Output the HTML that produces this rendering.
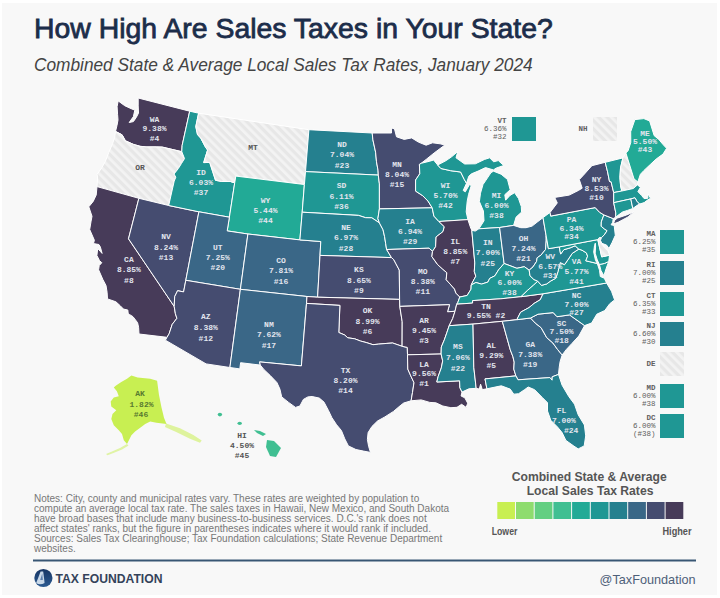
<!DOCTYPE html><html><head><meta charset="utf-8"><style>
html,body{margin:0;padding:0;width:720px;height:598px;overflow:hidden;background:#fff;}
#pg{position:absolute;left:2px;top:2.5px;width:715px;height:592.5px;background:#f8f8f8;}
.t{position:absolute;white-space:nowrap;font-family:"Liberation Sans",sans-serif;}
svg{position:absolute;left:0;top:0;}
</style></head><body><div id="pg"></div>
<div class="t" id="title" style="left:33.6px;top:13px;font-size:28px;color:#1c2d4a;-webkit-text-stroke:0.8px #1c2d4a;transform-origin:0 0;transform:scaleX(1.014);">How High Are Sales Taxes in Your State?</div>
<div class="t" id="sub" style="left:34px;top:55px;font-size:17.5px;transform-origin:0 0;transform:scaleX(0.987);font-style:italic;color:#444;">Combined State &amp; Average Local Sales Tax Rates, January 2024</div>
<svg width="720" height="598" viewBox="0 0 720 598">
<defs><pattern id="stripes" patternUnits="userSpaceOnUse" width="6" height="6" patternTransform="rotate(-45)"><rect width="6" height="6" fill="#e7e7e7"/><rect width="2.8" height="6" fill="#f3f3f3"/></pattern></defs>
<g stroke="#fff" stroke-width="1" stroke-linejoin="round">
<path d="M118.2,100.9 124.7,105.7 131.7,108.9 134.8,110.1 133.4,116.6 129.2,122.5 133.4,121.6 136.3,117.4 138.5,113.1 138.2,105.9 138.2,98.0 189.7,111.2 182.1,145.6 181.8,151.7 162.3,147.1 156.1,146.9 146.0,146.9 140.1,146.3 133.5,144.4 125.4,140.8 122.1,134.8 115.5,131.4 117.0,125.4 118.0,119.9 117.6,114.7 117.1,106.7 118.2,100.9Z" fill="#473b59"/>
<path d="M115.5,131.4 122.1,134.8 125.4,140.8 133.5,144.4 140.1,146.3 146.0,146.9 156.1,146.9 162.3,147.1 181.8,151.7 184.5,158.6 181.4,163.6 178.3,168.6 174.0,174.0 175.8,177.2 174.2,181.1 168.7,205.5 138.9,198.3 97.0,186.6 97.6,178.0 97.1,174.4 101.8,167.7 105.3,161.5 108.8,152.4 112.6,143.5 114.6,137.6 115.5,131.4Z" fill="url(#stripes)"/>
<path d="M97.0,186.6 138.9,198.3 128.5,238.8 174.2,306.4 175.4,313.7 176.9,318.3 172.2,324.4 169.1,333.8 167.0,337.3 139.0,334.0 138.6,327.3 137.6,322.7 133.0,316.7 129.4,314.4 128.2,313.4 127.8,310.0 123.5,309.1 120.2,305.7 115.9,301.8 107.5,298.9 107.1,292.3 106.0,285.5 102.9,279.6 98.6,269.8 99.2,265.6 101.8,262.7 99.5,260.6 96.9,255.5 97.7,248.5 100.3,251.4 102.1,253.4 100.4,247.1 98.9,244.5 93.4,243.6 94.4,240.3 89.7,229.5 91.1,221.1 92.0,216.3 88.8,206.8 93.2,201.4 96.2,195.0 97.0,186.6Z" fill="#473b59"/>
<path d="M138.9,198.3 168.7,205.5 198.9,211.8 185.8,280.3 183.6,291.9 177.6,290.7 174.7,296.6 174.2,306.4 128.5,238.8 138.9,198.3Z" fill="#454c70"/>
<path d="M189.7,111.2 198.6,113.2 195.8,126.6 197.5,134.6 200.7,138.1 205.7,147.5 207.6,150.0 203.7,162.6 209.7,162.4 212.6,171.3 215.5,180.3 221.4,181.4 230.4,181.5 234.7,182.9 229.4,217.2 198.9,211.8 168.7,205.5 174.2,181.1 175.8,177.2 174.0,174.0 178.3,168.6 181.4,163.6 184.5,158.6 181.8,151.7 182.1,145.6 189.7,111.2Z" fill="#1f9794"/>
<path d="M198.6,113.2 308.9,129.7 305.5,171.6 304.4,184.5 235.8,176.1 234.7,182.9 230.4,181.5 221.4,181.4 215.5,180.3 212.6,171.3 209.7,162.4 203.7,162.6 207.6,150.0 205.7,147.5 200.7,138.1 197.5,134.6 195.8,126.6 198.6,113.2Z" fill="url(#stripes)"/>
<path d="M234.7,182.9 235.8,176.1 304.4,184.5 302.2,212.2 299.9,239.9 247.9,234.0 227.2,230.9 229.4,217.2 234.7,182.9Z" fill="#22aa96"/>
<path d="M198.9,211.8 229.4,217.2 227.2,230.9 247.9,234.0 240.4,289.3 185.8,280.3 198.9,211.8Z" fill="#3a6787"/>
<path d="M247.9,234.0 299.9,239.9 320.8,241.5 320.0,255.4 317.6,297.2 307.0,296.5 240.4,289.3 247.9,234.0Z" fill="#3a6787"/>
<path d="M185.8,280.3 240.4,289.3 229.9,367.5 206.1,363.9 165.4,340.2 167.0,337.3 169.1,333.8 172.2,324.4 176.9,318.3 175.4,313.7 174.2,306.4 174.7,296.6 177.6,290.7 183.6,291.9 185.8,280.3Z" fill="#454c70"/>
<path d="M240.4,289.3 307.0,296.5 306.5,303.4 301.4,365.9 259.6,361.9 260.3,365.1 240.6,362.7 239.8,368.9 229.9,367.5 240.4,289.3Z" fill="#3a6787"/>
<path d="M308.9,129.7 372.2,133.0 372.9,139.8 375.6,152.2 376.5,161.8 378.0,170.1 378.3,175.1 305.5,171.6 308.9,129.7Z" fill="#25808f"/>
<path d="M305.5,171.6 378.3,175.1 379.4,183.9 379.4,208.9 377.9,218.6 379.4,222.9 371.8,217.8 365.6,217.7 358.6,215.4 302.2,212.2 304.4,184.5 305.5,171.6Z" fill="#1f9794"/>
<path d="M302.2,212.2 358.6,215.4 365.6,217.7 371.8,217.8 379.4,222.9 383.0,229.7 384.6,236.7 385.7,243.7 386.6,249.5 391.5,257.6 320.0,255.4 320.8,241.5 299.9,239.9 302.2,212.2Z" fill="#25808f"/>
<path d="M320.0,255.4 391.5,257.6 393.8,259.7 396.0,263.9 399.3,270.1 399.6,299.4 317.6,297.2 320.0,255.4Z" fill="#454c70"/>
<path d="M307.0,296.5 317.6,297.2 399.6,299.4 399.8,306.4 402.2,321.7 402.1,346.3 392.6,343.0 386.9,343.4 378.8,344.1 373.0,344.7 366.1,342.5 360.4,341.0 354.7,338.8 347.8,337.8 344.5,334.9 338.8,332.5 339.9,305.4 306.5,303.4 307.0,296.5Z" fill="#473b59"/>
<path d="M306.5,303.4 339.9,305.4 338.8,332.5 344.5,334.9 347.8,337.8 354.7,338.8 360.4,341.0 366.1,342.5 373.0,344.7 378.8,344.1 386.9,343.4 392.6,343.0 402.1,346.3 407.3,347.4 407.5,354.8 407.8,369.1 410.8,375.9 414.0,382.7 412.5,392.5 411.1,400.8 403.7,403.0 400.1,405.8 393.5,411.4 384.9,416.9 377.5,421.0 371.9,426.5 368.1,432.6 367.4,439.5 368.6,446.3 370.5,452.4 363.5,451.1 355.9,449.5 348.4,445.9 344.8,438.9 341.4,430.5 336.6,424.8 331.9,417.7 328.5,410.6 324.0,402.1 319.3,398.1 312.1,396.5 307.9,396.9 303.4,399.4 299.9,406.0 295.5,407.4 288.6,402.4 281.7,396.9 279.9,389.1 276.9,382.5 270.3,375.6 263.8,369.4 260.3,365.1 259.6,361.9 301.4,365.9 306.5,303.4Z" fill="#454c70"/>
<path d="M372.2,133.0 391.5,133.0 391.4,127.9 394.5,128.9 396.5,136.8 404.2,139.4 411.7,137.9 418.4,142.1 426.1,145.2 432.5,142.8 440.1,143.8 444.9,145.0 434.1,153.0 426.8,158.9 421.2,163.3 419.4,164.4 419.8,173.7 415.6,180.0 415.6,191.1 422.7,195.7 428.0,201.1 432.2,207.8 379.4,208.9 379.4,183.9 378.3,175.1 378.0,170.1 376.5,161.8 375.6,152.2 372.9,139.8 372.2,133.0Z" fill="#454c70"/>
<path d="M379.4,208.9 432.2,207.8 433.9,216.1 438.9,221.5 444.3,226.7 443.0,231.6 436.1,236.9 435.6,246.7 432.5,251.3 429.1,248.2 386.6,249.5 385.7,243.7 384.6,236.7 383.0,229.7 379.4,222.9 377.9,218.6 379.4,208.9Z" fill="#25808f"/>
<path d="M386.6,249.5 429.1,248.2 432.5,251.3 431.9,256.6 437.7,264.7 442.2,268.7 446.8,272.7 446.2,279.7 454.5,289.0 455.9,293.1 459.8,297.0 457.7,302.8 456.7,304.2 455.0,311.3 447.5,311.8 449.5,304.7 399.8,306.4 399.6,299.4 399.3,270.1 396.0,263.9 393.8,259.7 391.5,257.6 386.6,249.5Z" fill="#454c70"/>
<path d="M399.8,306.4 449.5,304.7 447.5,311.8 455.0,311.3 452.7,318.5 449.2,325.7 446.8,332.8 444.3,339.9 441.3,347.0 441.1,354.0 407.5,354.8 407.3,347.4 402.1,346.3 402.2,321.7 399.8,306.4Z" fill="#473b59"/>
<path d="M407.5,354.8 441.1,354.0 442.7,360.9 441.3,367.9 438.2,376.4 436.8,382.0 459.6,380.8 459.9,387.7 462.0,392.0 461.1,396.0 464.8,397.8 467.7,403.2 466.2,407.4 461.6,404.3 457.0,407.3 450.9,407.7 442.8,406.0 435.9,402.8 429.8,402.4 421.2,399.9 411.1,400.8 412.5,392.5 414.0,382.7 410.8,375.9 407.8,369.1 407.5,354.8Z" fill="#473b59"/>
<path d="M421.2,163.3 429.8,161.2 433.6,160.0 437.7,165.0 440.9,168.5 450.7,170.7 460.6,172.0 464.2,179.3 466.5,183.3 463.2,190.5 465.3,191.8 469.6,184.4 471.2,185.7 468.6,194.3 467.2,201.3 466.2,211.9 467.9,219.6 438.9,221.5 433.9,216.1 432.2,207.8 428.0,201.1 422.7,195.7 415.6,191.1 415.6,180.0 419.8,173.7 419.4,164.4 421.2,163.3Z" fill="#1f9794"/>
<path d="M438.9,221.5 467.9,219.6 470.8,228.3 471.8,230.3 474.8,262.9 474.3,271.4 475.8,276.2 472.6,282.1 471.2,285.0 471.0,289.2 467.1,295.5 459.8,297.0 455.9,293.1 454.5,289.0 446.2,279.7 446.8,272.7 442.2,268.7 437.7,264.7 431.9,256.6 432.5,251.3 435.6,246.7 436.1,236.9 443.0,231.6 444.3,226.7 438.9,221.5Z" fill="#473b59"/>
<path d="M437.7,165.0 446.1,160.6 451.6,156.8 457.8,151.5 456.0,157.8 464.7,164.0 475.4,163.8 484.6,159.4 489.7,157.8 493.6,161.8 498.3,160.6 503.8,165.5 496.4,168.0 493.4,169.9 485.5,167.6 478.1,171.1 471.5,173.8 468.8,176.2 466.5,183.3 464.2,179.3 460.6,172.0 450.7,170.7 440.9,168.5 437.7,165.0ZM478.9,228.8 484.0,220.8 483.4,211.0 479.4,201.6 480.5,193.2 483.0,184.5 486.0,180.1 491.0,172.6 493.5,171.2 501.1,174.2 507.5,179.5 510.2,189.8 504.8,194.7 505.6,200.2 510.0,195.4 514.6,192.7 518.5,198.5 521.3,206.5 521.6,212.1 516.1,217.1 513.6,225.4 499.6,227.5 478.9,228.8Z" fill="#1f9794"/>
<path d="M471.8,230.3 475.2,231.1 478.9,228.8 499.6,227.5 504.1,263.5 498.6,269.8 494.9,275.8 489.7,278.4 487.9,282.1 481.5,284.1 475.9,282.5 471.2,285.0 472.6,282.1 475.8,276.2 474.3,271.4 474.8,262.9 471.8,230.3Z" fill="#25808f"/>
<path d="M513.6,225.4 520.8,227.7 526.0,227.7 532.1,226.1 537.7,221.7 543.0,217.6 546.2,236.1 546.2,240.9 545.5,249.5 541.0,255.1 537.1,257.8 536.6,261.4 533.0,266.9 529.2,270.2 524.3,266.7 516.9,268.3 510.0,265.7 504.1,263.5 499.6,227.5 513.6,225.4Z" fill="#3a6787"/>
<path d="M504.1,263.5 510.0,265.7 516.9,268.3 524.3,266.7 529.2,270.2 530.0,275.8 533.9,279.5 537.8,281.2 533.6,285.1 527.7,290.2 521.0,296.7 500.8,298.8 472.6,300.6 472.6,303.1 456.7,304.2 457.7,302.8 459.8,297.0 467.1,295.5 471.0,289.2 471.2,285.0 475.9,282.5 481.5,284.1 487.9,282.1 489.7,278.4 494.9,275.8 498.6,269.8 504.1,263.5Z" fill="#1f9794"/>
<path d="M543.0,293.8 521.0,296.7 500.8,298.8 472.6,300.6 472.6,303.1 456.7,304.2 455.0,311.3 452.7,318.5 449.2,325.7 473.0,324.1 502.3,321.3 516.8,319.7 520.6,312.2 529.0,307.6 534.1,303.4 540.3,299.7 543.0,293.8Z" fill="#473b59"/>
<path d="M473.0,324.1 449.2,325.7 446.8,332.8 444.3,339.9 441.3,347.0 441.1,354.0 442.7,360.9 441.3,367.9 438.2,376.4 436.8,382.0 459.6,380.8 459.9,387.7 462.0,392.0 469.0,388.8 476.2,388.3 473.8,367.3 473.0,324.1Z" fill="#25808f"/>
<path d="M502.3,321.3 473.0,324.1 473.8,367.3 476.2,388.3 479.3,389.1 480.6,384.2 482.3,389.6 486.9,388.8 485.0,378.9 515.9,375.9 513.8,369.1 514.2,362.1 512.9,356.6 510.3,349.9 502.3,321.3Z" fill="#473b59"/>
<path d="M516.8,319.7 502.3,321.3 510.3,349.9 512.9,356.6 514.2,362.1 513.8,369.1 515.9,375.9 518.0,379.8 549.9,377.6 552.1,380.2 552.2,376.8 558.5,374.4 559.2,367.4 560.1,361.6 562.2,355.0 557.5,349.4 552.9,343.0 546.7,337.6 541.2,327.8 535.2,323.0 530.5,318.0 516.8,319.7Z" fill="#3a6787"/>
<path d="M558.5,374.4 552.2,376.8 552.1,380.2 549.9,377.6 518.0,379.8 515.9,375.9 485.0,378.9 486.9,388.8 501.3,385.8 510.2,389.1 513.8,394.2 518.6,393.7 524.8,389.5 528.2,387.0 534.6,389.7 542.5,397.7 547.5,402.7 547.5,411.0 550.8,420.3 557.5,427.0 562.1,432.6 565.9,440.4 573.9,446.1 578.2,448.9 584.2,445.9 585.7,435.9 584.4,425.0 578.2,414.8 574.5,404.2 568.9,396.7 562.1,385.2 558.5,374.4Z" fill="#25808f"/>
<path d="M530.5,318.0 538.0,314.2 553.2,312.6 557.0,316.7 569.5,314.9 584.6,325.6 578.8,336.0 571.9,343.5 566.4,349.4 562.2,355.0 557.5,349.4 552.9,343.0 546.7,337.6 541.2,327.8 535.2,323.0 530.5,318.0Z" fill="#3a6787"/>
<path d="M543.0,293.8 606.6,283.0 611.5,291.3 614.6,299.9 609.7,303.8 604.8,310.5 596.8,314.2 591.6,323.0 584.6,325.6 569.5,314.9 557.0,316.7 553.2,312.6 538.0,314.2 530.5,318.0 516.8,319.7 520.6,312.2 529.0,307.6 534.1,303.4 540.3,299.7 543.0,293.8Z" fill="#25808f"/>
<path d="M606.6,283.0 543.0,293.8 521.0,296.7 527.7,290.2 533.6,285.1 537.8,281.2 541.4,285.4 546.8,283.9 550.2,281.3 555.8,278.2 558.0,271.5 560.3,262.6 564.5,264.7 568.4,259.1 572.2,253.4 578.8,249.1 582.0,250.2 586.4,252.9 587.6,256.2 585.8,260.8 589.3,261.6 597.3,263.5 599.5,270.2 600.3,276.5 604.3,278.2 606.6,283.0ZM608.8,261.4 606.3,268.1 603.9,275.7 601.0,270.6 599.4,264.5 604.6,263.4 608.8,261.4Z" fill="#1f9794"/>
<path d="M546.2,236.1 548.4,248.7 559.3,246.9 560.6,254.1 563.9,249.7 570.1,247.9 575.1,245.8 578.8,249.1 572.2,253.4 568.4,259.1 564.5,264.7 560.3,262.6 558.0,271.5 555.8,278.2 550.2,281.3 546.8,283.9 541.4,285.4 537.8,281.2 533.9,279.5 530.0,275.8 529.2,270.2 533.0,266.9 536.6,261.4 537.1,257.8 541.0,255.1 545.5,249.5 546.2,240.9 546.2,236.1Z" fill="#25808f"/>
<path d="M559.3,246.9 597.8,239.6 601.7,256.9 609.5,255.2 608.8,261.4 604.6,263.4 599.4,264.5 597.3,260.0 595.2,253.2 595.6,246.0 595.3,243.2 594.5,245.6 593.7,252.1 595.5,260.3 597.3,263.5 589.3,261.6 585.8,260.8 587.6,256.2 586.4,252.9 582.0,250.2 578.8,249.1 575.1,245.8 570.1,247.9 563.9,249.7 560.6,254.1 559.3,246.9Z" fill="#1f9794"/>
<path d="M597.8,239.6 599.4,237.5 601.4,237.7 600.5,240.4 601.2,242.7 604.3,247.0 608.0,250.5 609.5,255.2 601.7,256.9 597.8,239.6Z" fill="url(#stripes)"/>
<path d="M543.0,217.6 550.1,212.4 550.7,216.1 595.2,207.6 599.6,212.3 603.9,214.9 601.3,221.9 601.2,226.3 604.6,229.1 607.1,230.7 604.3,234.9 601.4,237.7 599.4,237.5 597.8,239.6 559.3,246.9 548.4,248.7 546.2,236.1 543.0,217.6Z" fill="#1f9794"/>
<path d="M603.9,214.9 613.2,218.6 612.7,222.3 611.1,224.8 614.2,225.5 615.3,235.3 612.1,242.5 609.0,248.5 606.6,245.1 601.8,243.3 600.5,240.4 601.4,237.7 604.3,234.9 607.1,230.7 604.6,229.1 601.2,226.3 601.3,221.9 603.9,214.9Z" fill="#25808f"/>
<path d="M550.1,212.4 557.3,202.9 554.7,197.4 569.2,195.1 578.5,190.4 582.2,188.2 579.3,179.6 583.4,175.2 591.9,165.7 605.2,162.3 607.6,171.9 609.5,181.5 611.1,181.8 613.7,192.6 613.7,202.7 615.8,212.9 615.7,217.3 613.2,218.6 603.9,214.9 599.6,212.3 595.2,207.6 550.7,216.1 550.1,212.4ZM613.4,224.0 618.6,222.0 628.1,216.9 633.7,211.9 626.5,215.0 617.5,218.0 614.8,220.0Z" fill="#454c70"/>
<path d="M605.2,162.3 622.9,157.9 620.5,168.0 619.9,177.5 620.6,185.9 621.8,191.0 613.7,192.6 611.1,181.8 609.5,181.5 607.6,171.9 605.2,162.3Z" fill="#1f9794"/>
<path d="M622.9,157.9 625.9,153.0 634.0,178.9 637.8,181.9 637.4,184.9 633.3,188.5 621.8,191.0 620.6,185.9 619.9,177.5 620.5,168.0 622.9,157.9Z" fill="url(#stripes)"/>
<path d="M625.9,153.0 628.1,150.7 630.8,142.4 630.7,131.7 634.9,119.6 643.8,118.6 649.6,120.9 654.2,135.7 658.8,139.4 663.1,144.6 666.6,148.3 663.0,154.1 656.2,159.0 650.5,164.3 644.0,170.4 640.4,174.3 637.8,181.9 634.0,178.9 625.9,153.0Z" fill="#22aa96"/>
<path d="M613.7,192.6 621.8,191.0 633.3,188.5 637.4,184.9 640.4,187.3 637.9,191.6 641.7,195.6 644.1,198.6 647.8,198.3 648.1,193.9 650.5,198.3 646.8,200.5 644.2,202.6 639.5,204.1 636.8,201.2 635.0,197.8 630.8,198.9 613.7,202.7 613.7,192.6Z" fill="#1f9794"/>
<path d="M613.7,202.7 630.8,198.9 632.8,208.5 627.5,210.4 622.5,212.0 618.0,215.3 615.7,217.3 615.8,212.9 613.7,202.7Z" fill="#1f9794"/>
<path d="M630.8,198.9 635.0,197.8 636.8,201.2 639.5,204.1 636.9,205.5 632.8,208.5 630.8,198.9Z" fill="#25808f"/>
</g>
<g font-family="Liberation Mono, monospace" font-size="8" font-weight="bold" fill="#e2e5ee" text-anchor="middle">
<text x="154.5" y="121.5">WA</text>
<text x="154.5" y="131.4">9.38%</text>
<text x="154.5" y="141.4">#4</text>
<text x="201.0" y="175.2">ID</text>
<text x="201.0" y="185.3">6.03%</text>
<text x="201.0" y="195.4">#37</text>
<text x="265.5" y="203.0">WY</text>
<text x="265.5" y="213.2">5.44%</text>
<text x="265.5" y="223.4">#44</text>
<text x="342.0" y="146.6">ND</text>
<text x="342.0" y="157.1">7.04%</text>
<text x="342.0" y="167.6">#23</text>
<text x="341.5" y="188.4">SD</text>
<text x="341.5" y="198.8">6.11%</text>
<text x="341.5" y="209.2">#36</text>
<text x="397.0" y="166.5">MN</text>
<text x="397.0" y="176.5">8.04%</text>
<text x="397.0" y="186.5">#15</text>
<text x="445.5" y="187.8">WI</text>
<text x="445.5" y="197.8">5.70%</text>
<text x="445.5" y="207.8">#42</text>
<text x="496.5" y="198.4">MI</text>
<text x="496.5" y="208.2">6.00%</text>
<text x="496.5" y="218.0">#38</text>
<text x="166.0" y="238.7">NV</text>
<text x="166.0" y="249.5">8.24%</text>
<text x="166.0" y="260.3">#13</text>
<text x="217.8" y="250.2">UT</text>
<text x="217.8" y="260.0">7.25%</text>
<text x="217.8" y="269.8">#20</text>
<text x="281.0" y="263.3">CO</text>
<text x="281.0" y="273.4">7.81%</text>
<text x="281.0" y="283.5">#16</text>
<text x="346.0" y="229.7">NE</text>
<text x="346.0" y="240.4">6.97%</text>
<text x="346.0" y="251.1">#28</text>
<text x="410.1" y="224.2">IA</text>
<text x="410.1" y="234.2">6.94%</text>
<text x="410.1" y="244.2">#29</text>
<text x="455.2" y="244.3">IL</text>
<text x="455.2" y="254.3">8.85%</text>
<text x="455.2" y="264.3">#7</text>
<text x="487.8" y="245.0">IN</text>
<text x="487.8" y="255.3">7.00%</text>
<text x="487.8" y="265.6">#25</text>
<text x="523.5" y="240.8">OH</text>
<text x="523.5" y="250.7">7.24%</text>
<text x="523.5" y="260.6">#21</text>
<text x="571.5" y="222.4">PA</text>
<text x="571.5" y="230.9">6.34%</text>
<text x="571.5" y="239.4">#34</text>
<text x="596.5" y="182.3">NY</text>
<text x="596.5" y="191.0">8.53%</text>
<text x="596.5" y="199.7">#10</text>
<text x="645.0" y="136.0">ME</text>
<text x="645.0" y="144.0">5.50%</text>
<text x="645.0" y="152.0">#43</text>
<text x="128.9" y="262.1">CA</text>
<text x="128.9" y="272.4">8.85%</text>
<text x="128.9" y="282.7">#8</text>
<text x="205.8" y="318.8">AZ</text>
<text x="205.8" y="329.9">8.38%</text>
<text x="205.8" y="341.0">#12</text>
<text x="268.9" y="326.6">NM</text>
<text x="268.9" y="337.3">7.62%</text>
<text x="268.9" y="348.0">#17</text>
<text x="358.9" y="272.3">KS</text>
<text x="358.9" y="282.6">8.65%</text>
<text x="358.9" y="292.9">#9</text>
<text x="422.8" y="274.0">MO</text>
<text x="422.8" y="284.0">8.38%</text>
<text x="422.8" y="294.0">#11</text>
<text x="367.6" y="312.9">OK</text>
<text x="367.6" y="323.5">8.99%</text>
<text x="367.6" y="334.1">#6</text>
<text x="424.1" y="323.4">AR</text>
<text x="424.1" y="333.2">9.45%</text>
<text x="424.1" y="343.0">#3</text>
<text x="486.0" y="309.0">TN</text>
<text x="486.0" y="317.8">9.55% #2</text>
<text x="509.5" y="275.6">KY</text>
<text x="509.5" y="285.4">6.00%</text>
<text x="509.5" y="295.2">#38</text>
<text x="550.2" y="259.3">WV</text>
<text x="550.2" y="268.5">6.57%</text>
<text x="550.2" y="277.7">#31</text>
<text x="576.5" y="264.3">VA</text>
<text x="576.5" y="273.9">5.77%</text>
<text x="576.5" y="283.5">#41</text>
<text x="576.5" y="298.2">NC</text>
<text x="576.5" y="306.8">7.00%</text>
<text x="576.5" y="315.4">#27</text>
<text x="561.6" y="325.8">SC</text>
<text x="561.6" y="334.4">7.50%</text>
<text x="561.6" y="343.0">#18</text>
<text x="530.2" y="346.7">GA</text>
<text x="530.2" y="356.7">7.38%</text>
<text x="530.2" y="366.7">#19</text>
<text x="491.3" y="348.4">AL</text>
<text x="491.3" y="358.0">9.29%</text>
<text x="491.3" y="367.6">#5</text>
<text x="457.9" y="349.3">MS</text>
<text x="457.9" y="359.9">7.06%</text>
<text x="457.9" y="370.5">#22</text>
<text x="424.1" y="366.8">LA</text>
<text x="424.1" y="376.2">9.56%</text>
<text x="424.1" y="385.6">#1</text>
<text x="345.5" y="373.0">TX</text>
<text x="345.5" y="383.1">8.20%</text>
<text x="345.5" y="393.2">#14</text>
<text x="561.6" y="413.1">FL</text>
<text x="563.9" y="422.7">7.00%</text>
<text x="571.1" y="432.9">#24</text>
</g>
<text x="140" y="169.6" font-family="Liberation Mono, monospace" font-size="8" font-weight="bold" fill="#555" text-anchor="middle">OR</text>
<text x="253" y="149.7" font-family="Liberation Mono, monospace" font-size="8" font-weight="bold" fill="#555" text-anchor="middle">MT</text>
<path d="M115.7,385.7 121.3,381.9 127.0,378.8 131.4,375.6 137.6,377.5 150.2,378.8 157.1,380.7 159.0,395.1 161.5,407.6 164.0,417.7 166.5,424.0 156.5,422.7 150.2,421.4 145.2,424.0 140.2,427.7 135.1,431.5 131.4,435.2 128.9,440.3 127.0,444.0 123.8,440.3 122.0,434.0 118.8,430.2 113.8,425.2 111.3,418.9 112.5,413.9 116.3,410.2 111.3,406.4 110.7,401.4 113.8,397.6 118.8,396.3 116.9,391.3 113.8,387.6Z" fill="#c8ef52"/>
<path d="M166.0,423.5 180.0,428.3 193.3,435.0 201.7,440.5 200.0,442.7 190.0,438.8 176.7,432.2 165.0,427.0Z" fill="#c8ef52" opacity="0.55"/>
<path d="M127.0,444.0 120.0,448.0 112.0,451.5 106.0,454.0 107.5,455.2 114.0,452.8 122.0,449.5 128.5,445.5Z" fill="#c8ef52" opacity="0.5"/>
<g fill="#40bf92" stroke="none">
<ellipse cx="219.9" cy="414.6" rx="2.2" ry="1.8"/><ellipse cx="239.7" cy="423.3" rx="2.2" ry="1.6"/><path d="M254,430 L260,431 L266,434 L263,436 L257,433Z"/><path d="M267,440 L274,441 L281,448 L276,457 L270,456 L266,447Z"/>
</g>
<g font-family="Liberation Mono, monospace" font-size="8" font-weight="bold" text-anchor="middle">
<g fill="#587a30"><text x="140" y="396">AK</text><text x="141.5" y="406.5">1.82%</text><text x="141" y="416.5">#46</text></g>
<g fill="#555"><text x="242" y="437.7">HI</text><text x="242" y="448.4">4.50%</text><text x="242" y="458.1">#45</text></g>
</g>
<g font-family="Liberation Mono, monospace" font-size="7.5" fill="#606060" text-anchor="end">
<rect x="512" y="117" width="24" height="24" fill="#1f9794"/>
<text x="506.5" y="122.9" font-weight="bold">VT</text>
<text x="506.5" y="130.9">6.36%</text>
<text x="506.5" y="138.9">#32</text>
<rect x="593" y="117" width="24" height="24" fill="url(#stripes)"/>
<text x="587.5" y="130.9" font-weight="bold">NH</text>
<rect x="660" y="230" width="24" height="24" fill="#1f9794"/>
<text x="655.5" y="235.9" font-weight="bold">MA</text>
<text x="655.5" y="243.9">6.25%</text>
<text x="655.5" y="251.9">#35</text>
<rect x="660" y="261" width="24" height="24" fill="#25808f"/>
<text x="655.5" y="266.9" font-weight="bold">RI</text>
<text x="655.5" y="274.9">7.00%</text>
<text x="655.5" y="282.9">#25</text>
<rect x="660" y="292" width="24" height="24" fill="#1f9794"/>
<text x="655.5" y="297.9" font-weight="bold">CT</text>
<text x="655.5" y="305.9">6.35%</text>
<text x="655.5" y="313.9">#33</text>
<rect x="660" y="322" width="24" height="24" fill="#25808f"/>
<text x="655.5" y="327.9" font-weight="bold">NJ</text>
<text x="655.5" y="335.9">6.60%</text>
<text x="655.5" y="343.9">#30</text>
<rect x="660" y="352" width="24" height="24" fill="url(#stripes)"/>
<text x="655.5" y="365.9" font-weight="bold">DE</text>
<rect x="660" y="384" width="24" height="24" fill="#1f9794"/>
<text x="655.5" y="389.9" font-weight="bold">MD</text>
<text x="655.5" y="397.9">6.00%</text>
<text x="655.5" y="405.9">#38</text>
<rect x="660" y="414" width="24" height="24" fill="#1f9794"/>
<text x="655.5" y="419.9" font-weight="bold">DC</text>
<text x="655.5" y="427.9">6.00%</text>
<text x="655.5" y="435.9">(#38)</text>
</g>
<g font-family="Liberation Sans, sans-serif" font-weight="bold" fill="#555" text-anchor="middle">
<text x="511.7" y="481" font-size="12.5" text-anchor="start" textLength="155" lengthAdjust="spacingAndGlyphs">Combined State &amp; Average</text><text x="526.7" y="495" font-size="12.5" text-anchor="start" textLength="126.7" lengthAdjust="spacingAndGlyphs">Local Sales Tax Rates</text>
<text x="491.7" y="534.5" font-size="10" text-anchor="start" textLength="25.7" lengthAdjust="spacingAndGlyphs">Lower</text><text x="662.5" y="534.5" font-size="10" text-anchor="start" textLength="29" lengthAdjust="spacingAndGlyphs">Higher</text>
</g>
<rect x="497.3" y="502" width="17.7" height="17" fill="#c8ef52"/>
<rect x="516.0" y="502" width="17.7" height="17" fill="#8edc6e"/>
<rect x="534.7" y="502" width="17.7" height="17" fill="#63cf82"/>
<rect x="553.4" y="502" width="17.7" height="17" fill="#40bf92"/>
<rect x="572.1" y="502" width="17.7" height="17" fill="#22aa96"/>
<rect x="590.8" y="502" width="17.7" height="17" fill="#1f9794"/>
<rect x="609.5" y="502" width="17.7" height="17" fill="#25808f"/>
<rect x="628.2" y="502" width="17.7" height="17" fill="#3a6787"/>
<rect x="646.9" y="502" width="17.7" height="17" fill="#454c70"/>
<rect x="665.6" y="502" width="17.7" height="17" fill="#473b59"/>
<rect x="33" y="559.5" width="663" height="2" fill="#385674"/>
<defs><linearGradient id="lg" x1="0" y1="0" x2="0" y2="1"><stop offset="0" stop-color="#173564"/><stop offset="1" stop-color="#2c5b92"/></linearGradient></defs>
<circle cx="43.4" cy="578" r="9.1" fill="url(#lg)"/><path d="M36.2,583 L40.6,571.5 L43.2,571.5 L44.6,583 Q40,585.5 36.2,583Z" fill="#dce8f4" opacity="0.9"/><path d="M40.2,580 L42.2,573.5 L42.9,580Z" fill="#5d80ad"/>
<text x="55.5" y="583.3" font-family="Liberation Sans, sans-serif" font-size="13" font-weight="bold" fill="#34425a" textLength="107" lengthAdjust="spacingAndGlyphs">TAX FOUNDATION</text>
<text x="599.6" y="583.5" font-family="Liberation Sans, sans-serif" font-size="12.8" fill="#4e6079" textLength="96" lengthAdjust="spacingAndGlyphs">@TaxFoundation</text>
</svg>
<div class="t" style="left:34px;top:493.5px;font-size:10px;line-height:10px;color:#777;">Notes: City, county and municipal rates vary. These rates are weighted by population to<br>compute an average local tax rate. The sales taxes in Hawaii, New Mexico, and South Dakota<br>have broad bases that include many business-to-business services. D.C.&#39;s rank does not<br>affect states&#39; ranks, but the figure in parentheses indicates where it would rank if included.<br>Sources: Sales Tax Clearinghouse; Tax Foundation calculations; State Revenue Department<br>websites.</div>
</body></html>
